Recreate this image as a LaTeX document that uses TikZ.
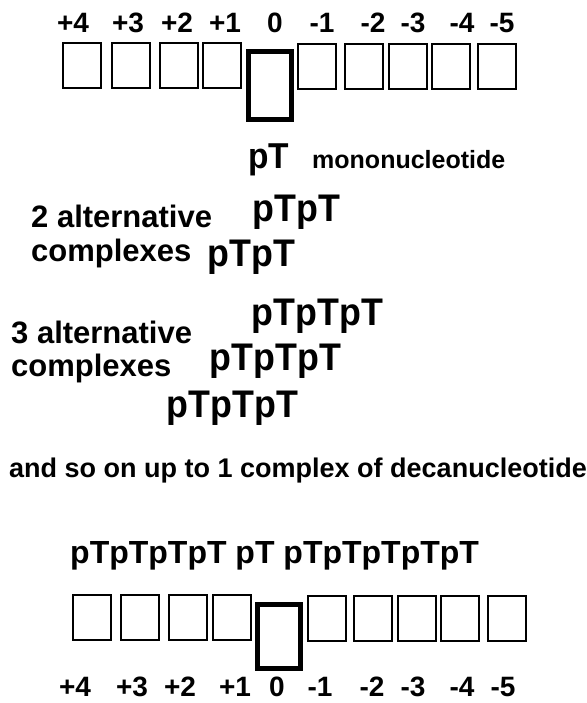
\documentclass[tikz,border=0pt]{standalone}
\usepackage{fontspec}
\setmainfont{Liberation Sans}
\newfontfamily\seqfont{Liberation Sans}[UprightFont={* Bold}, FakeStretch=0.93]
\begin{document}
\begin{tikzpicture}[x=1pt,y=-1pt,
  cell/.style={draw=black, line width=2pt, minimum width=38pt, minimum height=45pt, inner sep=0, outer sep=0},
  zero/.style={draw=black, line width=5pt, minimum width=43pt, inner sep=0, outer sep=0},
  poslab/.style={font=\bfseries\fontsize{28}{28}\selectfont, anchor=base, inner sep=0, text depth=0pt},
  seq/.style={font=\seqfont\fontsize{38.5}{38}\selectfont, anchor=base west, inner sep=0},
  txt/.style={font=\bfseries\fontsize{31}{31}\selectfont, anchor=base west, inner sep=0}]
\useasboundingbox (0,0) rectangle (586,703);
% top row
\node[cell] (t4) at (82,65.5) {};
\node[cell] (t3) at (130.5,65.5) {};
\node[cell] (t2) at (178.5,65.5) {};
\node[cell] (t1) at (222,65.5) {};
\node[zero, minimum height=68pt] (t0) at (270,85.5) {};
\node[cell] (tm1) at (317,66.5) {};
\node[cell] (tm2) at (363.5,66.5) {};
\node[cell] (tm3) at (407.5,66.5) {};
\node[cell] (tm4) at (451,66.5) {};
\node[cell] (tm5) at (497,66.5) {};
\node[poslab] (lt4) at (73,33) {+4};
\node[poslab] (lt3) at (128,33) {+3};
\node[poslab] (lt2) at (177,33) {+2};
\node[poslab] (lt1) at (225,33) {+1};
\node[poslab] (lt0) at (275,33) {0};
\node[poslab] (ltm1) at (322,33) {-1};
\node[poslab] (ltm2) at (373,33) {-2};
\node[poslab] (ltm3) at (413,33) {-3};
\node[poslab] (ltm4) at (462,33) {-4};
\node[poslab] (ltm5) at (502,33) {-5};
% middle texts
\node[seq, font=\seqfont\fontsize{36}{36}\selectfont] (mono) at (248,169) {pT};
\node[anchor=base west, inner sep=0, font=\bfseries\fontsize{25}{25}\selectfont] (monolab) at (312,169) {mononucleotide};
\node[txt] (alt2) at (31,227) {2 alternative};
\node[txt] (cpx2) at (31,261) {complexes};
\node[seq] (d1) at (252.5,222) {pTpT};
\node[seq] (d2) at (207.5,266) {pTpT};
\node[seq] (r1) at (251.5,325) {pTpTpT};
\node[txt] (alt3) at (11,343) {3 alternative};
\node[seq] (r2) at (209.5,370) {pTpTpT};
\node[txt] (cpx3) at (11,376) {complexes};
\node[seq] (r3) at (166.5,417) {pTpTpT};
\node[anchor=base west, inner sep=0, font=\bfseries\fontsize{27}{27}\selectfont] (soon) at (9,477) {and so on up to 1 complex of decanucleotide};
% bottom
\node[anchor=base west, inner sep=0, font=\bfseries\fontsize{32}{32}\selectfont] (deca) at (70,563) {pTpTpTpT pT pTpTpTpTpT};
\node[cell] (b4) at (91.5,617.5) {};
\node[cell] (b3) at (139.5,617.5) {};
\node[cell] (b2) at (188,617.5) {};
\node[cell] (b1) at (231.5,617.5) {};
\node[zero, minimum height=64pt] (b0) at (278.5,636.5) {};
\node[cell] (bm1) at (326.5,618.5) {};
\node[cell] (bm2) at (372.5,618.5) {};
\node[cell] (bm3) at (416.5,618.5) {};
\node[cell] (bm4) at (459.5,618.5) {};
\node[cell] (bm5) at (506.5,618.5) {};
\node[poslab] (lb4) at (75,696) {+4};
\node[poslab] (lb3) at (132,696) {+3};
\node[poslab] (lb2) at (180,696) {+2};
\node[poslab] (lb1) at (235,696) {+1};
\node[poslab] (lb0) at (277,696) {0};
\node[poslab] (lbm1) at (320,696) {-1};
\node[poslab] (lbm2) at (372,696) {-2};
\node[poslab] (lbm3) at (413,696) {-3};
\node[poslab] (lbm4) at (462,696) {-4};
\node[poslab] (lbm5) at (503,696) {-5};
\end{tikzpicture}
\end{document}
